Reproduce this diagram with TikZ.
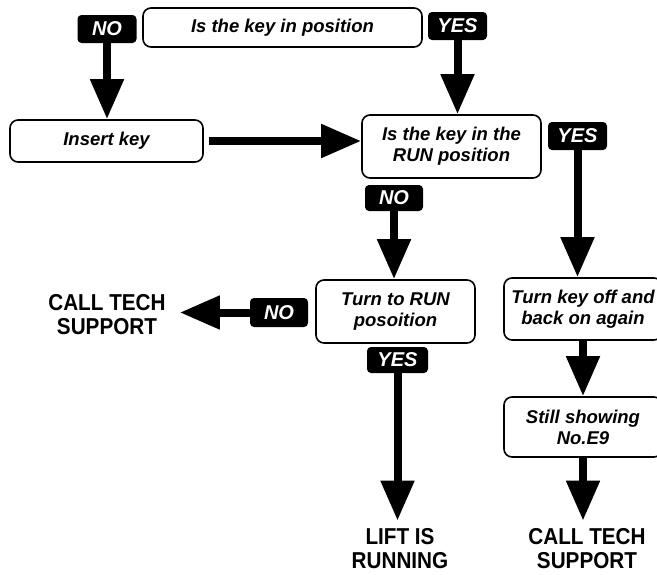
\documentclass[tikz,border=0pt]{standalone}
\usepackage{fontspec}
\newfontfamily\boxfont{Liberation Sans}
\newfontfamily\headfont[FakeStretch=0.9]{Liberation Sans}
\usetikzlibrary{arrows.meta,positioning,calc}

\begin{document}
\begin{tikzpicture}[x=1pt,y=-1pt]
        \tikzset{stepbox/.style = {shape=rectangle,draw,line width=1.6pt,rounded corners=8pt,align=center,inner sep=2pt,font=\boxfont\bfseries\itshape\fontsize{18.5}{21}\selectfont}}
        \tikzset{answer/.style = {shape=rectangle,fill=black,text=white,rounded corners=4pt,inner sep=0pt,minimum height=28pt,font=\boxfont\bfseries\itshape\fontsize{20}{20}\selectfont}}
        \tikzset{outcome/.style = {align=center,inner sep=0pt,font=\headfont\bfseries\fontsize{23}{24}\selectfont}}
        \tikzset{flow_edge/.style = {line width=8pt,-{Triangle[length=40pt,width=32pt]}}}

        \useasboundingbox (0,0) rectangle (657,574);

        \node[stepbox,minimum width=279pt,minimum height=39pt] (pos) at (282.5,27.5) {Is the key in position};
        \node[answer,minimum width=59pt] (noA) at (107,29) {NO};
        \node[answer,minimum width=59pt] (yesA) at (457.5,26) {YES};
        \node[stepbox,minimum width=193pt,minimum height=42pt] (insert) at (106.5,141) {Insert key};
        \node[stepbox,minimum width=179pt,minimum height=63pt] (run) at (451.5,146.5) {Is the key in the\\RUN position};
        \node[answer,minimum width=59pt] (yesB) at (577.5,136) {YES};
        \node[answer,minimum width=58pt,minimum height=26pt] (noB) at (394,198) {NO};
        \node[stepbox,minimum width=159pt,minimum height=63pt] (turnrun) at (395.5,311.5) {Turn to RUN\\posoition};
        \node[answer,minimum width=58pt,minimum height=29pt] (noC) at (279,312.5) {NO};
        \node[outcome] (call1) at (107,315) {CALL TECH\\SUPPORT};
        \node[answer,minimum width=61pt,minimum height=26pt] (yesC) at (397.5,360) {YES};
        \node[outcome] (lift) at (400,549) {LIFT IS\\RUNNING};
        \node[stepbox,minimum width=158pt,minimum height=62pt] (turnoff) at (583,309) {Turn key off and\\back on again};
        \node[stepbox,minimum width=158pt,minimum height=60pt] (still) at (583,427) {Still showing\\No.E9};
        \node[outcome] (call2) at (587,549) {CALL TECH\\SUPPORT};

        \draw[flow_edge] (noA.south) -- (noA.south |- insert.north);
        \draw[flow_edge] (yesA.south) -- (yesA.south |- run.north);
        \draw[flow_edge,shorten <=5pt] (insert.east) -- (insert.east -| run.west);
        \draw[flow_edge] (yesB.south) -- (yesB.south |- turnoff.north);
        \draw[flow_edge] (noB.south) -- (noB.south |- turnrun.north);
        \draw[flow_edge,shorten >=14pt] (noC.west) -- (noC.west -| call1.east);
        \draw[flow_edge,shorten >=8pt] (yesC.south) -- (yesC.south |- lift.north);
        \draw[flow_edge] (turnoff.south) -- (still.north);
        \draw[flow_edge,shorten >=8pt] (still.south) -- (still.south |- call2.north);
\end{tikzpicture}
\end{document}
